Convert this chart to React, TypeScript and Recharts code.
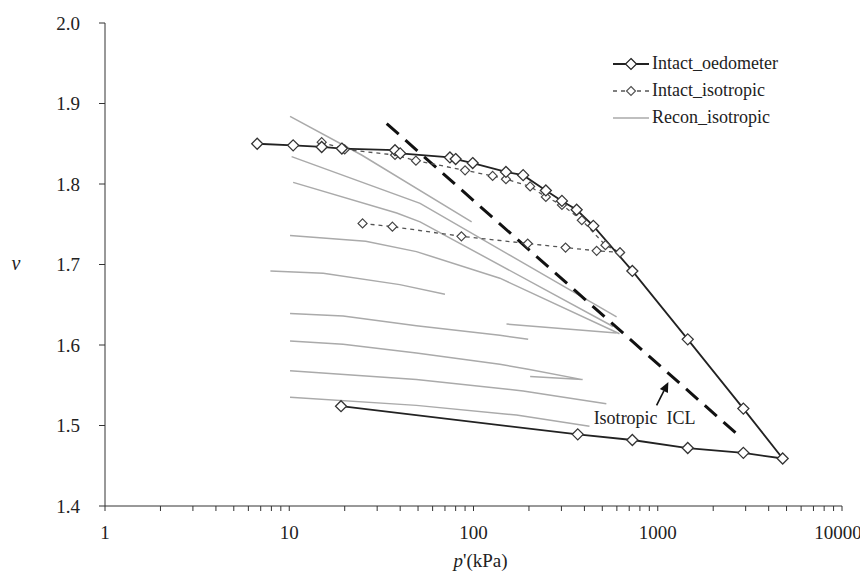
import React from "react"
import { LineChart, Line, XAxis, YAxis, Legend, ReferenceLine } from "recharts"

// Intact_oedometer (loading then unloading)
const oedP = [6.7, 10.5, 15, 19.3, 37.5, 40, 74.5, 80, 99, 150, 186, 247, 302, 363, 447, 728, 1455, 2915, 4765, 2915, 1455, 728, 368, 19.1]
const oedV = [1.85, 1.848, 1.846, 1.844, 1.842, 1.838, 1.833, 1.831, 1.826, 1.815, 1.811, 1.792, 1.779, 1.768, 1.748, 1.692, 1.607, 1.521, 1.459, 1.466, 1.472, 1.482, 1.489, 1.524]

// Intact_isotropic, two samples
const isoAP = [15, 20, 37.5, 48.7, 90, 127, 150, 203, 247, 302, 387, 520, 624]
const isoAV = [1.852, 1.843, 1.836, 1.829, 1.817, 1.81, 1.806, 1.797, 1.784, 1.774, 1.755, 1.724, 1.715]
const isoBP = [25, 36.3, 86, 197, 316, 466, 624]
const isoBV = [1.751, 1.747, 1.735, 1.726, 1.721, 1.717, 1.715]

// Recon_isotropic curves (p, v pairs)
const recon: number[][][] = [
  [[10.1, 1.884], [24.7, 1.836], [97.7, 1.753]],
  [[10.3, 1.834], [51.3, 1.776], [186, 1.702], [598, 1.635]],
  [[10.5, 1.802], [38.3, 1.764], [51.3, 1.753], [572, 1.623]],
  [[10.1, 1.736], [26, 1.729], [49, 1.716], [139, 1.683], [620, 1.614]],
  [[7.9, 1.692], [15.3, 1.689], [39.8, 1.675], [70, 1.663]],
  [[10.1, 1.639], [19.6, 1.636], [49, 1.624], [139, 1.612], [198, 1.607]],
  [[151, 1.626], [598, 1.615]],
  [[10.1, 1.605], [19.6, 1.601], [49, 1.59], [139, 1.576], [198, 1.57], [391, 1.557], [203, 1.561]],
  [[10.1, 1.568], [49, 1.557], [186, 1.543], [309, 1.535], [526, 1.527]],
  [[10.1, 1.535], [49, 1.525], [171, 1.513], [426, 1.499]],
]

// Isotropic ICL
const iclP = [33.8, 2735]
const iclV = [1.875, 1.488]
const arrowFrom = { x: 986, y: 1.525 }
const arrowTo = { x: 1142, y: 1.554 }

const yTicks = [1.4, 1.5, 1.6, 1.7, 1.8, 1.9, 2.0]
const decades = [1, 10, 100, 1000, 10000]
const xTicks: number[] = []
decades.slice(0, 4).forEach((d) => { for (let i = 1; i < 10; i++) xTicks.push(d * i) })
xTicks.push(10000)

const toRows = (ps: number[], vs: number[]) => ps.map((p, i) => ({ p, v: vs[i] }))
const oedData = toRows(oedP, oedV)
const isoA = toRows(isoAP, isoAV)
const isoB = toRows(isoBP, isoBV)
const iclData = toRows(iclP, iclV)

const FONT = "'Liberation Serif', 'Times New Roman', serif"

const diamond = (s: number, stroke: string, sw: number) => (props: any) => {
  const { cx, cy, key } = props
  if (cx == null || cy == null) return <g key={key} />
  return (
    <path key={key} d={`M${cx},${cy - s}L${cx + s},${cy}L${cx},${cy + s}L${cx - s},${cy}Z`} fill="#fff" stroke={stroke} strokeWidth={sw} />
  )
}

const XTick = (props: any) => {
  const { x, y, payload } = props
  const v = payload.value
  if (!decades.includes(v)) return <g />
  return (
    <text x={x + (v === 10000 ? -4 : 0)} y={y + 26} textAnchor="middle" style={{ fontFamily: FONT, fontSize: 19 }} fill="#222">
      {String(v)}
    </text>
  )
}

const LegendBox = () => {
  const rows = [
    { name: "Intact_oedometer", stroke: "#222", dash: undefined, w: 1.8, marker: 5.5 },
    { name: "Intact_isotropic", stroke: "#555", dash: "4 4", w: 1.3, marker: 4.5 },
    { name: "Recon_isotropic", stroke: "#aaa", dash: undefined, w: 1.5, marker: 0 },
  ]
  return (
    <div style={{ fontFamily: FONT, fontSize: 18, color: "#222" }}>
      {rows.map((r) => (
        <div key={r.name} style={{ display: "flex", alignItems: "center", height: 27 }}>
          <svg width={36} height={14} style={{ marginRight: 3 }}>
            <line x1={0} y1={7} x2={36} y2={7} stroke={r.stroke} strokeWidth={r.w} strokeDasharray={r.dash} />
            {r.marker > 0 && (
              <path d={`M18,${7 - r.marker}L${18 + r.marker},7L18,${7 + r.marker}L${18 - r.marker},7Z`} fill="#fff" stroke={r.stroke} strokeWidth={1.2} />
            )}
          </svg>
          <span>{r.name}</span>
        </div>
      ))}
    </div>
  )
}

const ArrowShape = (props: any) => {
  const { x1, y1, x2, y2 } = props
  if (x1 == null) return <g />
  const ang = Math.atan2(y2 - y1, x2 - x1)
  const L = 10
  const W = 4.5
  const bx = x2 - L * Math.cos(ang)
  const by = y2 - L * Math.sin(ang)
  const px = -Math.sin(ang) * W
  const py = Math.cos(ang) * W
  return (
    <g>
      <line x1={x1} y1={y1} x2={bx} y2={by} stroke="#111" strokeWidth={1.6} />
      <path d={`M${x2},${y2}L${bx + px},${by + py}L${bx - px},${by - py}Z`} fill="#111" />
      <text x={x1 - 12} y={y1 + 19} textAnchor="middle" style={{ fontFamily: FONT, fontSize: 18 }} fill="#222">
        Isotropic{"\u00a0\u00a0"}ICL
      </text>
    </g>
  )
}

export default function App() {
  return (
    <div style={{ fontFamily: FONT, width: 852, height: 563 }}>
      <style>{`html,body{overflow:hidden}.recharts-surface{overflow:visible}`}</style>
      <LineChart width={852} height={563} margin={{ top: 15, right: 18, left: 37, bottom: 15 }}>
        <XAxis
          dataKey="p"
          type="number"
          scale="log"
          domain={[1, 10000]}
          ticks={xTicks}
          interval={0}
          allowDataOverflow
          tickSize={5}
          stroke="#333"
          tick={<XTick />}
          height={50}
          label={(p: any) => {
            const vb = p.viewBox || {}
            return (
              <text x={vb.x + vb.width / 2 + 7} y={vb.y + 61} textAnchor="middle" style={{ fontFamily: FONT, fontSize: 19 }} fill="#222">
                <tspan fontStyle="italic">p</tspan>'(kPa)
              </text>
            )
          }}
        />
        <YAxis
          type="number"
          domain={[1.4, 2.0]}
          ticks={yTicks}
          interval={0}
          allowDataOverflow
          tickSize={6}
          tickMargin={19}
          stroke="#333"
          width={60}
          tick={{ fill: "#222", fontSize: 19, style: { fontFamily: FONT } }}
          tickFormatter={(t: number) => t.toFixed(1)}
          label={(p: any) => {
            const vb = p.viewBox || {}
            return (
              <text x={8} y={vb.y + vb.height / 2 + 5} textAnchor="middle" style={{ fontFamily: FONT, fontSize: 20, fontStyle: "italic" }} fill="#222">
                v
              </text>
            )
          }}
        />
        <Legend content={<LegendBox />} layout="horizontal" verticalAlign="middle" align="center" wrapperStyle={{ top: 42, left: 605, width: 230 }} />
        {recon.map((pts, i) => (
          <Line
            key={"r" + i}
            data={pts.map(([p, v]) => ({ p, v }))}
            dataKey="v"
            stroke="#aaa"
            strokeWidth={1.5}
            dot={false}
            legendType="none"
            isAnimationActive={false}
          />
        ))}
        <Line data={iclData} dataKey="v" stroke="#111" strokeWidth={3} strokeDasharray="16 9" dot={false} legendType="none" isAnimationActive={false} />
        <Line data={isoB} dataKey="v" stroke="#555" strokeWidth={1.3} strokeDasharray="4 4" dot={diamond(4.5, "#444", 1.2)} legendType="none" isAnimationActive={false} />
        <Line data={isoA} dataKey="v" stroke="#555" strokeWidth={1.3} strokeDasharray="4 4" dot={diamond(4.5, "#444", 1.2)} legendType="none" isAnimationActive={false} />
        <Line data={oedData} dataKey="v" stroke="#222" strokeWidth={1.8} dot={diamond(5.5, "#333", 1.3)} legendType="none" isAnimationActive={false} />
        <ReferenceLine segment={[arrowFrom, arrowTo]} shape={ArrowShape} ifOverflow="visible" />
      </LineChart>
    </div>
  )
}
